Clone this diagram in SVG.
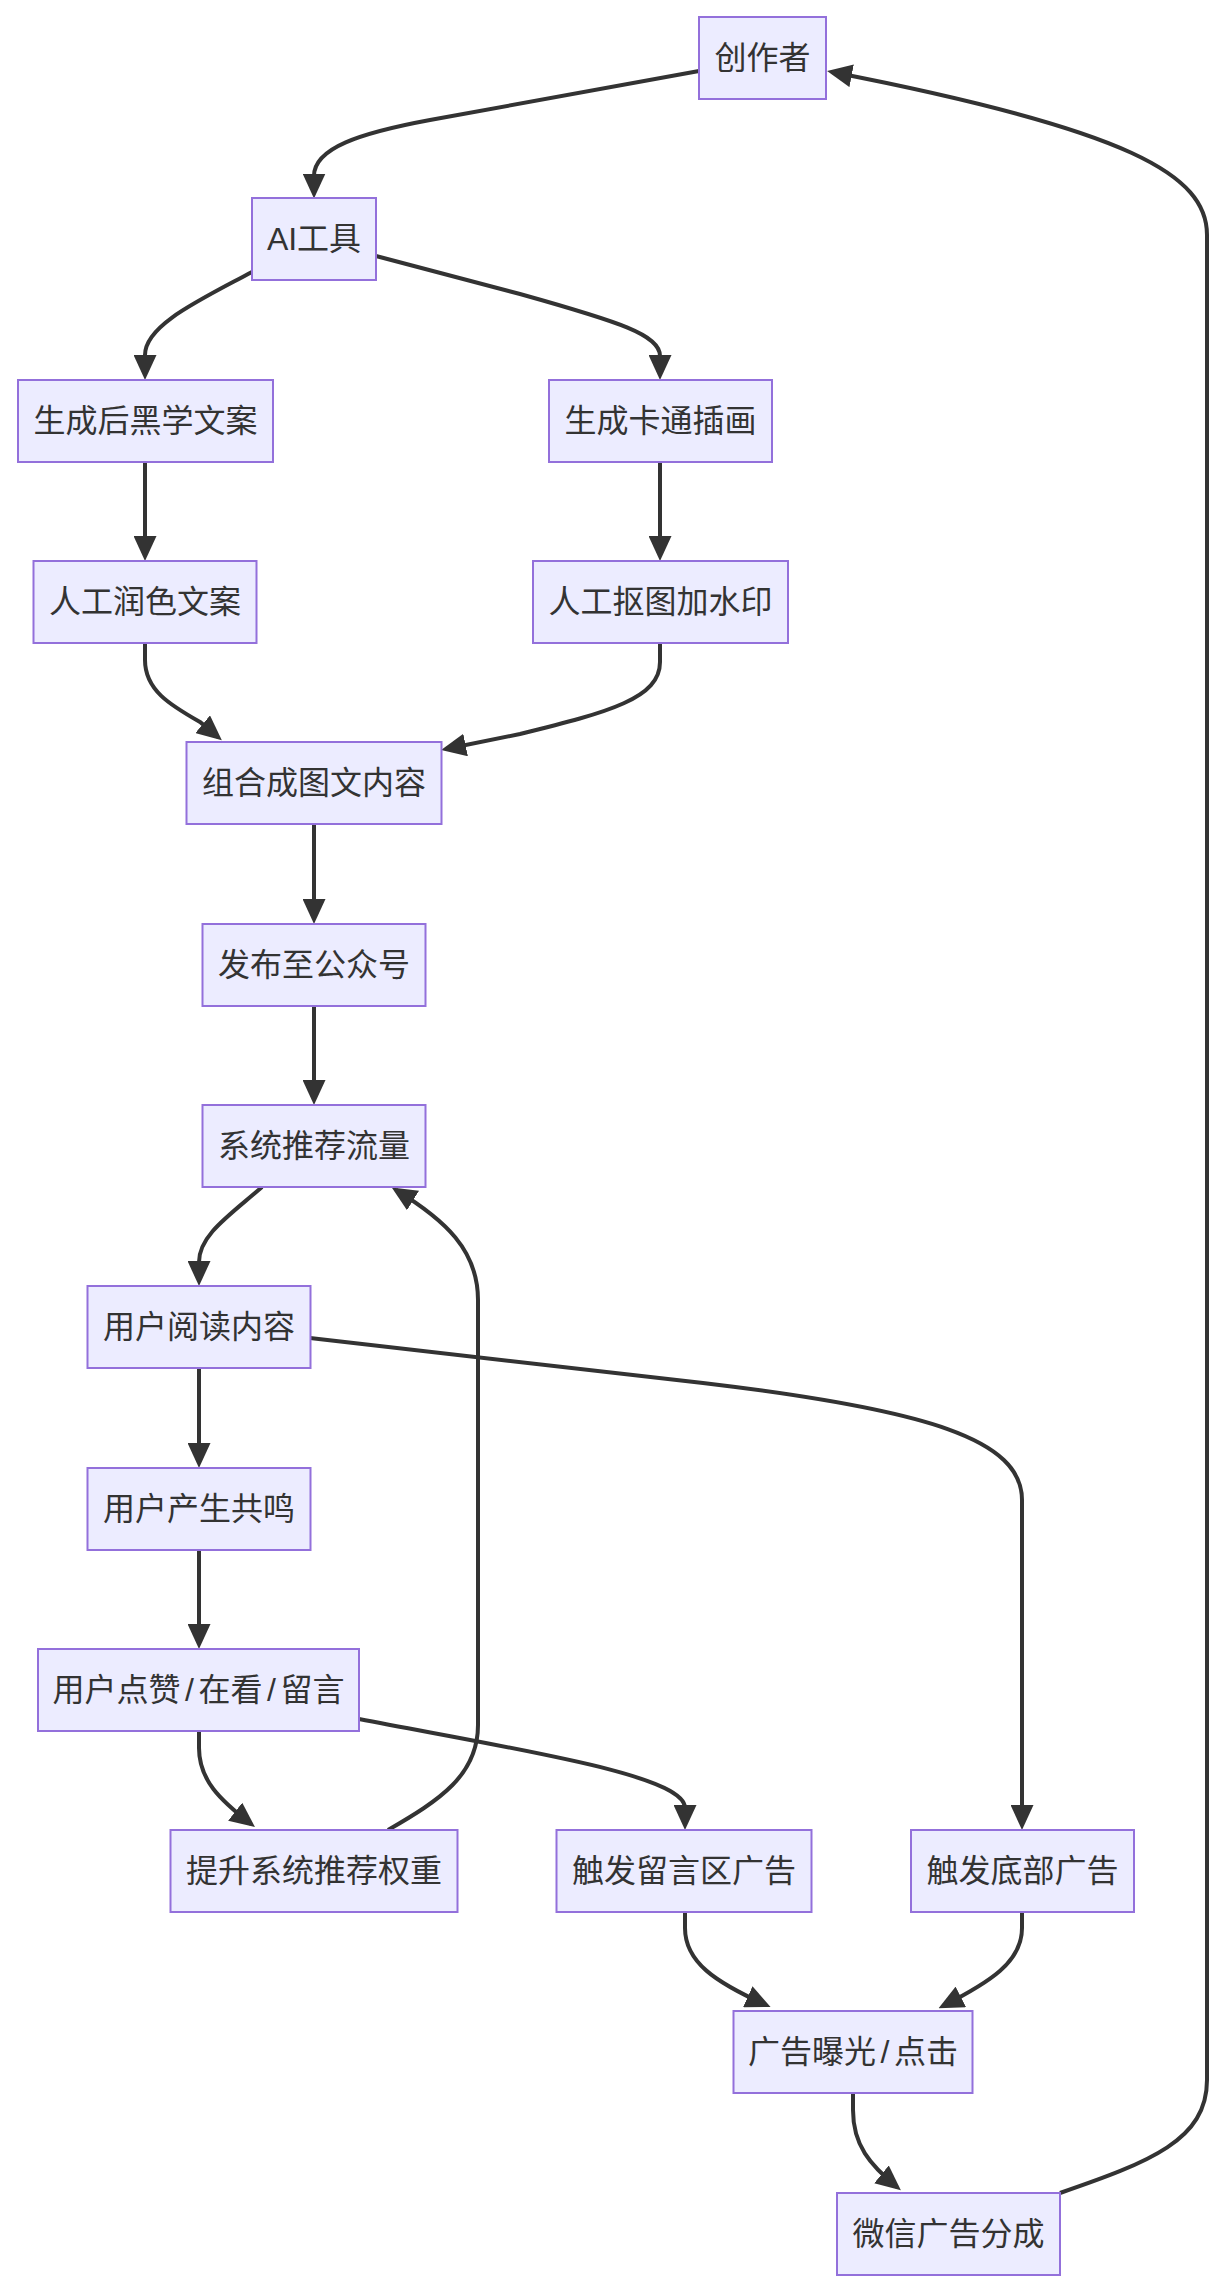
<svg xmlns="http://www.w3.org/2000/svg" width="1224" height="2290" viewBox="0 0 1224 2290">
<style>
.node rect{fill:#ECECFF;stroke:#9370DB;stroke-width:2}
.node text{font-family:"Liberation Sans","Noto Sans CJK SC",sans-serif;font-size:32px;fill:#333;text-anchor:middle;dominant-baseline:central}
.edges path{fill:none;stroke:#333;stroke-width:4;marker-end:url(#arrow)}
</style>
<defs>
<marker id="arrow" viewBox="0 0 10 10" refX="8" refY="5" markerUnits="userSpaceOnUse" markerWidth="25" markerHeight="23" orient="auto" preserveAspectRatio="none">
<path d="M0,0 L10,5 L0,10 z" fill="#333"/>
</marker>
</defs>
<rect width="1224" height="2290" fill="#fff"/>
<g class="edges">
<path d="M699,71 L430,120 C360,133 314,148 314,176 L314,193.5"/>
<path d="M252,272 C200,300 145,325 145,355 L145,375"/>
<path d="M376,256 L520,294 C620,322 660,335 660,356 L660,375"/>
<path d="M145,462 L145,556"/>
<path d="M660,462 L660,556"/>
<path d="M145,643 L145,660 C145,690 170,705 200,722 L218,737"/>
<path d="M660,643 L660,662 C660,698 610,712 520,734 L446,749"/>
<path d="M314,824 L314,919"/>
<path d="M314,1006 L314,1100"/>
<path d="M262,1187 C230,1215 199,1235 199,1262 L199,1281"/>
<path d="M388,1830 C440,1800 478,1775 478,1725 L478,1300 C478,1250 445,1220 396,1190"/>
<path d="M199,1368 L199,1463"/>
<path d="M199,1550 L199,1644"/>
<path d="M310,1338 L703,1383 C930,1410 1022,1440 1022,1500 L1022,1825"/>
<path d="M199,1731 L199,1748 C199,1780 220,1800 251,1824"/>
<path d="M359,1719 C520,1750 685,1775 685,1808 L685,1825"/>
<path d="M685,1912 L685,1928 C685,1962 715,1982 766,2005"/>
<path d="M1022,1912 L1022,1928 C1022,1962 990,1982 943,2006"/>
<path d="M853,2093 L853,2110 C853,2145 870,2165 897,2187"/>
<path d="M1060,2193 C1150,2162 1207,2140 1207,2080 L1207,235 C1207,175 1130,130 832,72"/>
</g>
<g id="n1" class="node"><rect x="699" y="17" width="127" height="82"/><text x="762.5" y="58">创作者</text></g>
<g id="n2" class="node"><rect x="252" y="198" width="124" height="82"/><text x="314" y="239">AI工具</text></g>
<g id="n3" class="node"><rect x="18" y="380" width="255" height="82"/><text x="145.5" y="421">生成后黑学文案</text></g>
<g id="n4" class="node"><rect x="549" y="380" width="223" height="82"/><text x="660.5" y="421">生成卡通插画</text></g>
<g id="n5" class="node"><rect x="33.5" y="561" width="223" height="82"/><text x="145" y="602">人工润色文案</text></g>
<g id="n6" class="node"><rect x="533" y="561" width="255" height="82"/><text x="660.5" y="602">人工抠图加水印</text></g>
<g id="n7" class="node"><rect x="186.5" y="742" width="255" height="82"/><text x="314" y="783">组合成图文内容</text></g>
<g id="n8" class="node"><rect x="202.5" y="924" width="223" height="82"/><text x="314" y="965">发布至公众号</text></g>
<g id="n9" class="node"><rect x="202.5" y="1105" width="223" height="82"/><text x="314" y="1146">系统推荐流量</text></g>
<g id="n10" class="node"><rect x="87.5" y="1286" width="223" height="82"/><text x="199" y="1327">用户阅读内容</text></g>
<g id="n11" class="node"><rect x="87.5" y="1468" width="223" height="82"/><text x="199" y="1509">用户产生共鸣</text></g>
<g id="n12" class="node"><rect x="38" y="1649" width="321" height="82"/><text x="198.5" y="1690">用户点赞<tspan dx="4.5">/</tspan><tspan dx="4.5">在看</tspan><tspan dx="4.5">/</tspan><tspan dx="4.5">留言</tspan></text></g>
<g id="n13" class="node"><rect x="170.5" y="1830" width="287" height="82"/><text x="314" y="1871">提升系统推荐权重</text></g>
<g id="n14" class="node"><rect x="556.5" y="1830" width="255" height="82"/><text x="684" y="1871">触发留言区广告</text></g>
<g id="n15" class="node"><rect x="911" y="1830" width="223" height="82"/><text x="1022.5" y="1871">触发底部广告</text></g>
<g id="n16" class="node"><rect x="733.5" y="2011" width="239" height="82"/><text x="853" y="2052">广告曝光<tspan dx="4.5">/</tspan><tspan dx="4.5">点击</tspan></text></g>
<g id="n17" class="node"><rect x="837" y="2193" width="223" height="82"/><text x="948.5" y="2234">微信广告分成</text></g>
</svg>
